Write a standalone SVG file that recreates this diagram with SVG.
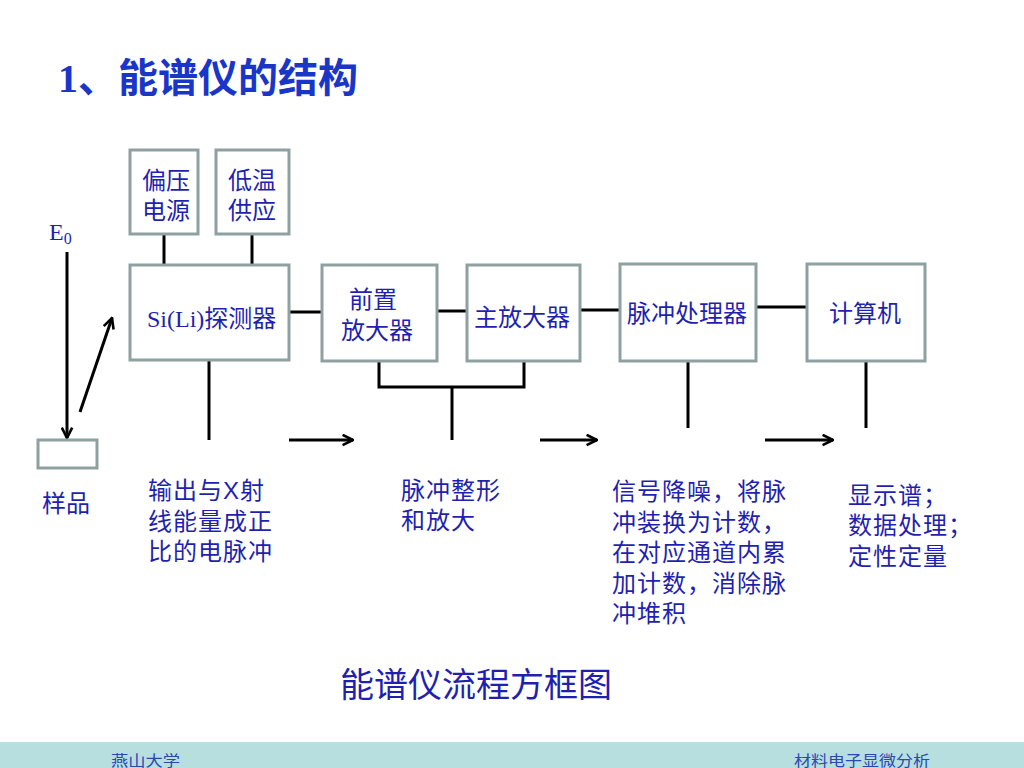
<svg xmlns="http://www.w3.org/2000/svg" width="1024" height="768" viewBox="0 0 1024 768">
<style>
.box{fill:#fff;stroke:#8fa0a0;stroke-width:3}
.ln{stroke:#000;stroke-width:3;fill:none}
.t{font-family:"Liberation Serif","Noto Sans CJK SC",serif;font-size:24px;fill:#1f1fb0}
.d{font-family:"Liberation Sans","Noto Sans CJK SC",sans-serif;font-size:24px;letter-spacing:1px;fill:#1f1fb0}
</style>
<defs>
<marker id="ah" viewBox="0 0 10 10" refX="9" refY="5" markerWidth="13" markerHeight="13" orient="auto" markerUnits="userSpaceOnUse">
<path d="M1,1 L9,5 L1,9" fill="none" stroke="#000" stroke-width="2"/>
</marker>
</defs>
<rect width="1024" height="768" fill="#fff"/>
<text x="58" y="92" font-family="Liberation Serif,'Noto Sans CJK SC',serif" font-size="40" font-weight="bold" fill="#1a36c8">1、能谱仪的结构</text>

<g id="connectors">
<line class="ln" x1="164" y1="235" x2="164" y2="265"/>
<line class="ln" x1="252" y1="235" x2="252" y2="265"/>
<line class="ln" x1="289" y1="312" x2="322" y2="312"/>
<line class="ln" x1="437" y1="311" x2="467" y2="311"/>
<line class="ln" x1="580" y1="310" x2="620" y2="310"/>
<line class="ln" x1="756" y1="307" x2="807" y2="307"/>
<polyline class="ln" points="379,361 379,387 524,387 524,361"/>
<line class="ln" x1="452" y1="387" x2="452" y2="440"/>
<line class="ln" x1="209" y1="361" x2="209" y2="440"/>
<line class="ln" x1="688" y1="361" x2="688" y2="428"/>
<line class="ln" x1="866" y1="361" x2="866" y2="428"/>
<line class="ln" x1="67" y1="252" x2="67" y2="438" marker-end="url(#ah)"/>
<line class="ln" x1="80" y1="412" x2="112" y2="318" marker-end="url(#ah)"/>
<line class="ln" x1="289" y1="440" x2="353" y2="440" marker-end="url(#ah)"/>
<line class="ln" x1="540" y1="440" x2="597" y2="440" marker-end="url(#ah)"/>
<line class="ln" x1="765" y1="440" x2="833" y2="440" marker-end="url(#ah)"/>
</g>

<g id="bias"><rect class="box" x="130" y="150" width="68" height="84"/><text class="t" x="142" y="189">偏压</text><text class="t" x="142" y="219">电源</text></g>
<g id="cool"><rect class="box" x="216" y="150" width="73" height="84"/><text class="t" x="228" y="189">低温</text><text class="t" x="228" y="219">供应</text></g>
<g id="detector"><rect class="box" x="130" y="265" width="159" height="95"/><text class="t" x="147" y="327">Si(Li)探测器</text></g>
<g id="preamp"><rect class="box" x="322" y="265" width="115" height="96"/><text class="t" x="349" y="308">前置</text><text class="t" x="341" y="339">放大器</text></g>
<g id="mainamp"><rect class="box" x="467" y="265" width="113" height="96"/><text class="t" x="474" y="326">主放大器</text></g>
<g id="pulse"><rect class="box" x="620" y="264" width="136" height="97"/><text class="t" x="627" y="322">脉冲处理器</text></g>
<g id="computer"><rect class="box" x="807" y="264" width="118" height="97"/><text class="t" x="829" y="322">计算机</text></g>
<g id="sample"><rect class="box" x="38" y="440" width="59" height="28"/><text class="t" x="42" y="512">样品</text></g>
<g id="e0"><text class="t" x="49" y="240">E<tspan font-size="16" dy="4">0</tspan></text></g>

<g id="desc1"><text class="d" x="148" y="499">输出与X射</text><text class="d" x="148" y="530">线能量成正</text><text class="d" x="148" y="560">比的电脉冲</text></g>
<g id="desc2"><text class="d" x="401" y="499">脉冲整形</text><text class="d" x="401" y="529">和放大</text></g>
<g id="desc3"><text class="d" x="612" y="500">信号降噪，将脉</text><text class="d" x="612" y="531">冲装换为计数，</text><text class="d" x="612" y="561">在对应通道内累</text><text class="d" x="612" y="592">加计数，消除脉</text><text class="d" x="612" y="622">冲堆积</text></g>
<g id="desc4"><text class="d" x="848" y="504">显示谱；</text><text class="d" x="848" y="534">数据处理；</text><text class="d" x="848" y="565">定性定量</text></g>

<text x="340" y="697" font-family="Liberation Sans,'Noto Sans CJK SC',sans-serif" font-size="34" fill="#1f1fb0">能谱仪流程方框图</text>

<rect x="0" y="742" width="1024" height="26" fill="#b8dfe0"/>
<text x="111" y="766" font-family="'Noto Sans CJK SC',sans-serif" font-size="15" fill="#2a48b0" textLength="69" lengthAdjust="spacingAndGlyphs">燕山大学</text>
<text x="794" y="766" font-family="'Noto Sans CJK SC',sans-serif" font-size="15" fill="#2a48b0" textLength="136" lengthAdjust="spacingAndGlyphs">材料电子显微分析</text>
</svg>
